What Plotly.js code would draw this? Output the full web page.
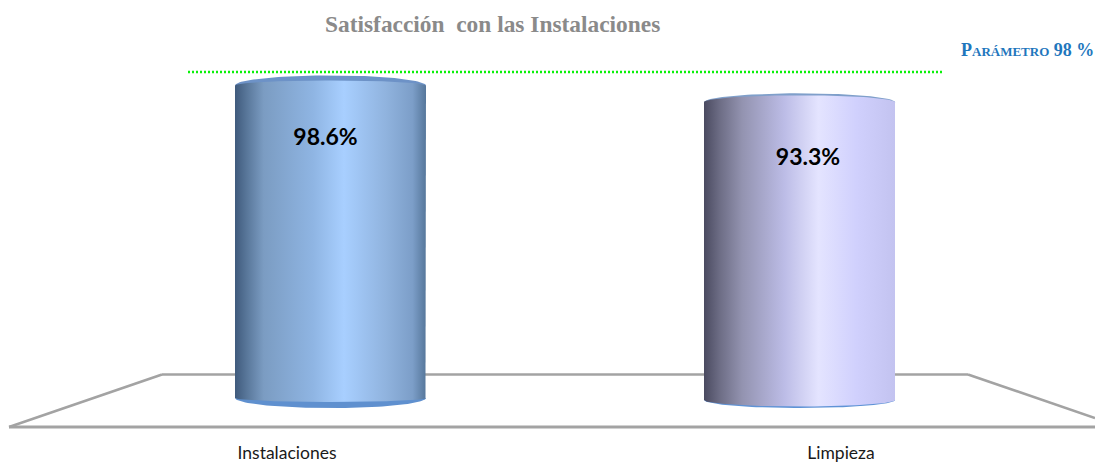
<!DOCTYPE html>
<html><head><meta charset="utf-8">
<script src="https://cdn.plot.ly/plotly-3.0.1.min.js"></script>
<style>html,body{margin:0;padding:0;background:#fff}#c{width:1095px;height:462px}</style>
</head><body><div id="c"></div>
<script>
const categories = ["Instalaciones", "Limpieza"];
const values = [98.6, 93.3];
const valueLabels = ["98.6%", "93.3%"];
const titleText = "Satisfacción\u00a0 con las Instalaciones";
const referenceText = "Parámetro 98 %";

const W = 1095, H = 462, BOTTOM = 22;
const plotH = H - BOTTOM;
const PX_PER_X = 469, X0_PX = 330.5;
const PX_PER_Y = 3.18, Y0_PX = 399;
const px2x = p => 1 + (p - X0_PX) / PX_PER_X;
const py2y = p => (Y0_PX - p) / PX_PER_Y;

const centers = [1, 2];
const halfW = 95.5 / PX_PER_X;
const baseShift = [-1, 1];
const tickPos = [px2x(287), px2x(841)];
const labelDx = [-5, 8.5], labelDy = [53.5, 56.5];

const bodyScales = [
  [[0,'#3f5a7c'],[0.06,'#587699'],[0.15,'#7b9cc2'],[0.41,'#8fb5e3'],[0.57,'#a8cfff'],[0.79,'#90b3de'],[0.93,'#7c9ec8'],[1,'#56779b']],
  [[0,'#4a4a60'],[0.08,'#6c6c84'],[0.2,'#9393b0'],[0.42,'#bcbce6'],[0.6,'#e4e4ff'],[0.8,'#d0d0fd'],[1,'#c3c3f0']]
];
const capColors = [['#6d92c7','#5f90cf'], ['#7f9fca','#5f93d6']];
const capR = [[10, 10], [9, 8]];
const bodyR = [[5, 4], [7, 6.5]];

function arc(cx, y0, ry, from, to) {
  const xs = [], ys = [];
  for (let i = 0; i <= 60; i++) {
    const t = from + (to - from) * i / 60;
    xs.push(cx + halfW * Math.cos(t));
    ys.push(y0 + ry * Math.sin(t));
  }
  return [xs, ys];
}
const skip = {hoverinfo: 'skip', showlegend: false};

const traces = [];
values.forEach((v, i) => {
  const cx = centers[i], base = -baseShift[i] / PX_PER_Y;
  const [tx, ty] = arc(cx, v, capR[i][0] / PX_PER_Y, Math.PI, 0);
  traces.push({x: tx, y: ty, mode: 'lines', fill: 'toself', fillcolor: capColors[i][0], line: {width: 0}, ...skip});
  const [bx, by] = arc(cx, base, -capR[i][1] / PX_PER_Y, 0, Math.PI);
  traces.push({x: bx, y: by, mode: 'lines', fill: 'toself', fillcolor: capColors[i][1], line: {width: 0}, ...skip});
  const [ax1, ay1] = arc(cx, v, bodyR[i][0] / PX_PER_Y, Math.PI, 0);
  const [ax2, ay2] = arc(cx, base, -bodyR[i][1] / PX_PER_Y, 0, Math.PI);
  traces.push({x: ax1.concat(ax2), y: ay1.concat(ay2), mode: 'lines', fill: 'toself', line: {width: 0},
    fillgradient: {type: 'horizontal', colorscale: bodyScales[i]}, ...skip});
});
traces.push({
  x: centers.map((c, i) => c + labelDx[i] / PX_PER_X),
  y: values.map((v, i) => v - labelDy[i] / PX_PER_Y),
  mode: 'text', text: valueLabels, textposition: 'middle center',
  textfont: {family: 'Lato, sans-serif', size: 23, color: '#000', weight: 700}, ...skip
});

const gray = {color: '#a3a3a3', width: 2.6};
const seg = (x0, y0, x1, y1, line) => ({type: 'line', xref: 'x', yref: 'y', layer: 'below',
  x0: px2x(x0), y0: py2y(y0), x1: px2x(x1), y1: py2y(y1), line});

const layout = {
  width: W, height: H, margin: {l: 0, r: 0, t: 0, b: BOTTOM},
  paper_bgcolor: '#fff', plot_bgcolor: '#fff', showlegend: false,
  xaxis: {range: [px2x(0), px2x(W)], showgrid: false, zeroline: false, showline: false, ticks: '',
    tickmode: 'array', tickvals: tickPos, ticktext: categories, ticklabelstandoff: 0,
    tickfont: {family: 'Lato, sans-serif', size: 17.5, color: '#1a1a1a'}, fixedrange: true},
  yaxis: {range: [py2y(plotH), py2y(0)], visible: false, fixedrange: true},
  shapes: [
    seg(9, 427, 162, 374.5, gray),
    seg(162, 374.5, 968, 374.5, gray),
    seg(968, 374.5, 1095, 418, gray),
    seg(9, 427, 1095, 427, {color: '#a3a3a3', width: 3}),
    seg(188, 72, 942, 72, {color: '#0bf00b', width: 2.6, dash: '2px,2px'})
  ],
  annotations: [
    {xref: 'paper', yref: 'paper', x: 492.5 / W, y: 1 - 24.5 / plotH, xanchor: 'center', yanchor: 'middle',
     text: titleText, showarrow: false,
     font: {family: 'Liberation Serif, serif', size: 23.4, color: '#8a8a8a', weight: 700}},
    {xref: 'paper', yref: 'paper', x: 1096 / W, y: 1 - 50.5 / plotH, xanchor: 'right', yanchor: 'middle',
     text: referenceText, showarrow: false,
     font: {family: 'Liberation Serif, serif', size: 18, color: '#1f77bd', weight: 700, variant: 'small-caps'}}
  ]
};
Plotly.newPlot('c', traces, layout, {displayModeBar: false, staticPlot: true});
</script></body></html>
